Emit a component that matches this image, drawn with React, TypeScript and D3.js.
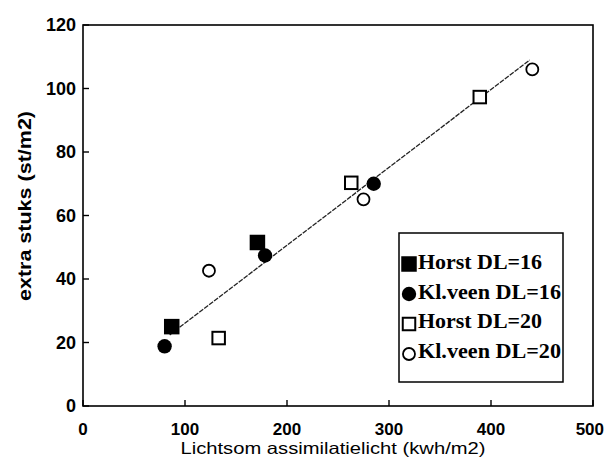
import React from 'react'
import { scaleLinear, line } from 'd3'

// points: [lichtsom kWh/m2, extra stuks st/m2]
const horstDL16 = [[87, 25], [171, 51.5]]
const klveenDL16 = [[80, 18.8], [178.5, 47.4], [285, 70]]
const horstDL20 = [[133, 21.4], [263, 70.3], [389, 97.3]]
const klveenDL20 = [[123.5, 42.6], [275, 65.1], [440.5, 106]]
const fitLine = [[85, 22.4], [438, 109]]

const xTicks = [0, 100, 200, 300, 400, 500]
const yTicks = [0, 20, 40, 60, 80, 100, 120]

const seriesNames = ['Horst DL=16', 'Kl.veen DL=16', 'Horst DL=20', 'Kl.veen DL=20']
const seriesShapes = ['square', 'circle', 'square', 'circle']
const seriesFilled = [true, true, false, false]
const seriesData = [horstDL16, klveenDL16, horstDL20, klveenDL20]

const App = () => {
  const width = 606
  const height = 457
  const left = 83
  const right = 593
  const top = 25
  const bottom = 406

  const x = scaleLinear().domain([0, 500]).range([left, right])
  const y = scaleLinear().domain([0, 120]).range([bottom, top])
  const fitPath = line().x(d => x(d[0])).y(d => y(d[1]))

  const marker = (shape, filled, cx, cy, key) => {
    if (shape === 'square') {
      const s = filled ? 15.5 : 12.5
      return (
        <rect key={key} x={cx - s / 2} y={cy - s / 2} width={s} height={s}
          fill={filled ? '#000' : '#fff'} stroke="#000" strokeWidth={filled ? 0 : 2} />
      )
    }
    return (
      <circle key={key} cx={cx} cy={cy} r={filled ? 7.2 : 6}
        fill={filled ? '#000' : '#fff'} stroke="#000" strokeWidth={filled ? 0 : 1.8} />
    )
  }

  const tickFont = { fontFamily: 'Liberation Sans, Arial, sans-serif', fontWeight: 'bold', fontSize: 18 }

  return (
    <svg width={width} height={height} style={{ position: 'absolute', left: 0, top: 0, background: '#fff' }}>
      <rect x={0} y={0} width={width} height={height} fill="#fff" />

      {/* fit line */}
      <path d={fitPath(fitLine)} fill="none" stroke="#222" strokeWidth={1.3} strokeDasharray="5 1.2" />

      {/* points */}
      {seriesData.map((pts, i) =>
        pts.map((p, j) => marker(seriesShapes[i], seriesFilled[i], x(p[0]), y(p[1]), `${i}-${j}`))
      )}

      {/* frame */}
      <rect x={left} y={top} width={right - left} height={bottom - top} fill="none" stroke="#000" strokeWidth={1.6} />

      {/* y axis */}
      {yTicks.map(t => (
        <g key={'y' + t}>
          <line x1={left} x2={left + 6} y1={y(t)} y2={y(t)} stroke="#000" strokeWidth={1.4} />
          <text x={left - 7} y={y(t)} dy="0.36em" textAnchor="end" {...tickFont}>{t}</text>
        </g>
      ))}

      {/* x axis */}
      {xTicks.map((t, i) => (
        <g key={'x' + t}>
          <line x1={x(t)} x2={x(t)} y1={bottom} y2={bottom - 6} stroke="#000" strokeWidth={1.4} />
          <text x={i === xTicks.length - 1 ? width - 2 : x(t)} y={435} fontSize={17}
            textAnchor={i === xTicks.length - 1 ? 'end' : 'middle'}
            fontFamily={tickFont.fontFamily} fontWeight="bold">{t}</text>
        </g>
      ))}

      <text x={333} y={453.5} textAnchor="middle" fontFamily="Liberation Sans, Arial, sans-serif"
        fontSize={16.5} textLength={305} lengthAdjust="spacingAndGlyphs">
        Lichtsom assimilatielicht (kwh/m2)
      </text>
      <text transform="translate(31, 206) rotate(-90)" textAnchor="middle"
        fontFamily="Liberation Sans, Arial, sans-serif" fontSize={19} fontWeight="bold"
        textLength={190} lengthAdjust="spacingAndGlyphs">
        extra stuks (st/m2)
      </text>

      {/* legend */}
      <rect x={399} y={233} width={164} height={149} fill="#fff" stroke="#000" strokeWidth={1.5} />
      {seriesNames.map((name, i) => (
        <g key={name}>
          {marker(seriesShapes[i], seriesFilled[i], 409, 264 + i * 30, 'l' + i)}
          <text x={418} y={269 + i * 29.6} fontFamily="Liberation Serif, Times New Roman, serif"
            fontWeight="bold" fontSize={21} textLength={name.startsWith('Kl') ? 143 : 124}
            lengthAdjust="spacingAndGlyphs">
            {name}
          </text>
        </g>
      ))}
    </svg>
  )
}

export default App
